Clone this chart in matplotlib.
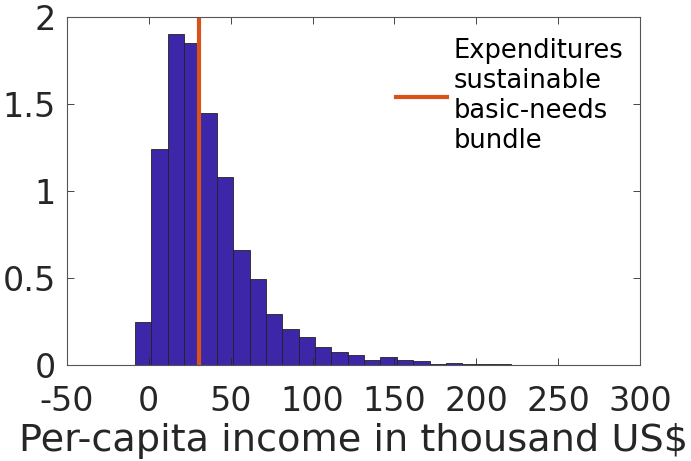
import matplotlib
matplotlib.use('Agg')
import matplotlib.pyplot as plt
import numpy as np

# histogram of per-capita income (bin width 10 thousand US$)
bin_start = -8.5
bin_width = 10
density = [0.249, 1.241, 1.900, 1.852, 1.450, 1.082, 0.663, 0.492, 0.296, 0.209,
           0.164, 0.104, 0.077, 0.057, 0.031, 0.046, 0.027, 0.021, 0.008, 0.013,
           0.005, 0.004, 0.004, 0.003, 0.003]
basic_needs = 30.8

xticks = [-50, 0, 50, 100, 150, 200, 250, 300]
xtick_labels = ['-50', '0', '50', '100', '150', '200', '250', '300']
yticks = [0, 0.5, 1, 1.5, 2]
ytick_labels = ['0', '0.5', '1', '1.5', '2']

BAR = '#3d26a8'
LINE = '#d95319'
AXC = '#262626'

plt.rcParams['font.family'] = 'DejaVu Sans'

fig = plt.figure(figsize=(6.91, 4.61), dpi=100)
ax = fig.add_axes([0.097, 0.208, 0.829, 0.755])

lefts = bin_start + bin_width * np.arange(len(density))
ax.bar(lefts, density, width=bin_width, align='edge', color=BAR,
       edgecolor='#222222', linewidth=0.6)
ax.axvline(basic_needs, color=LINE, linewidth=3,
           label='Expenditures\nsustainable\nbasic-needs\nbundle')

ax.set_xlim(-50, 300)
ax.set_ylim(0, 2)
ax.set_xticks(xticks)
ax.set_xticklabels(xtick_labels)
ax.set_yticks(yticks)
ax.set_yticklabels(ytick_labels)
ax.tick_params(direction='in', length=5, width=0.6, color=AXC, labelcolor=AXC,
               labelsize=24, top=True, right=True)
ax.tick_params(axis='x', pad=14)
ax.tick_params(axis='y', pad=8)
for s in ax.spines.values():
    s.set_color('#555555')
    s.set_linewidth(0.8)

ax.set_xlabel('Per-capita income in thousand US$', fontsize=27.5, color=AXC, labelpad=4)

ax.legend(loc='upper left', bbox_to_anchor=(0.574, 0.94), frameon=False,
          fontsize=18.5, handlelength=2.0, handletextpad=0.25, labelspacing=0.3,
          borderpad=0, borderaxespad=0)

fig.savefig('out.png', dpi=100, facecolor='white')
